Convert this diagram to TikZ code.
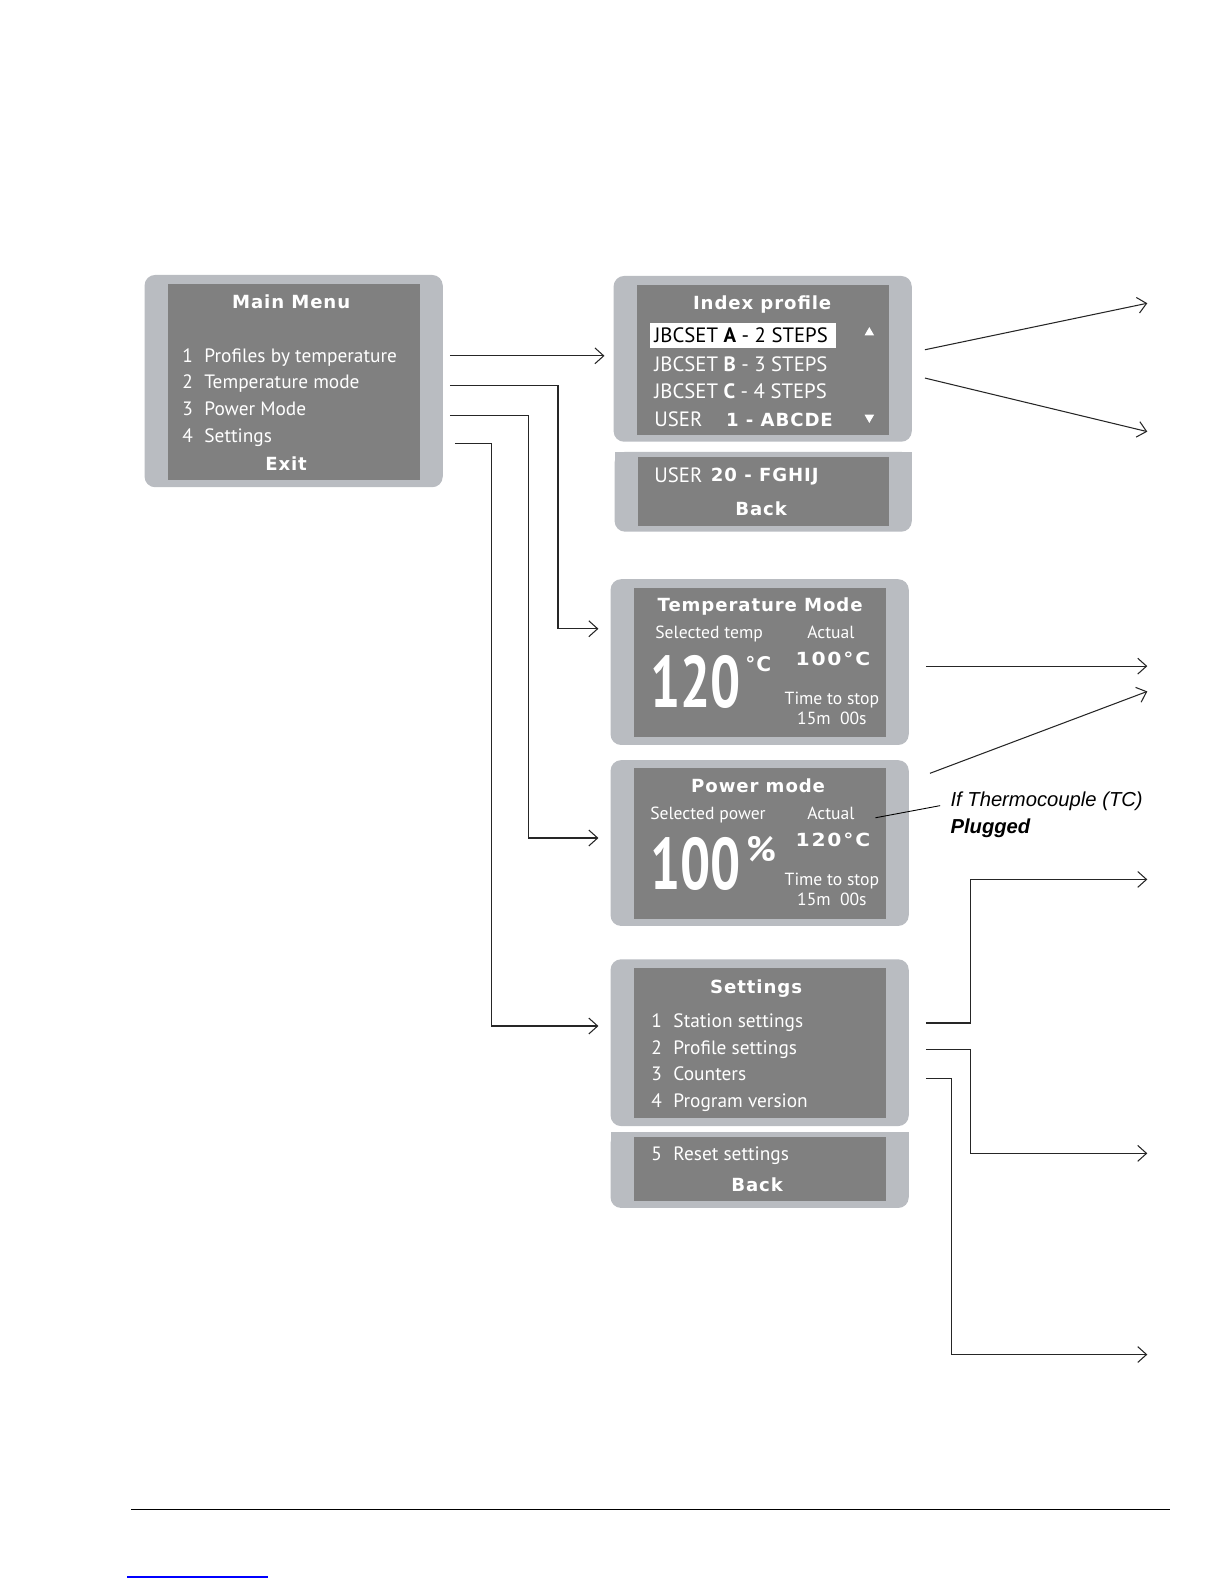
\documentclass[tikz,border=0pt]{standalone}
\usepackage{fontspec}
\setmainfont{Liberation Sans}
\newfontfamily\lcdfont{PT Sans}
\newfontfamily\lcdheavy{DejaVu Sans}[LetterSpace=5]
\newfontfamily\lcdwide{DejaVu Sans}[LetterSpace=10, FakeStretch=1.12]
\usepackage{graphicx}
\usepackage{xcolor}
\usepackage{tikz}
\usetikzlibrary{shapes.geometric, arrows.meta, positioning, calc, fit}
\definecolor{bezelgray}{RGB}{185,188,193}
\definecolor{lcdgray}{RGB}{128,128,128}

\begin{document}
\begin{tikzpicture}[
    x=0.0202cm, y=-0.0202cm,
    screenframe/.style={fill=bezelgray, rounded corners=6pt, inner sep=0pt, outer sep=0pt},
    lcd/.style={fill=lcdgray, inner sep=0pt, outer sep=0pt},
    menutxt/.style={text=white, font=\lcdfont\fontsize{11}{13}\selectfont, anchor=west, inner sep=0pt, text height=7.7pt, text depth=0pt},
    rowtxt/.style={text=white, font=\lcdfont\fontsize{11.8}{13}\selectfont, anchor=west, inner sep=0pt, text height=8.2pt, text depth=0pt},
    smalltxt/.style={text=white, font=\lcdfont\fontsize{10}{12}\selectfont, inner sep=0pt, text height=7pt, text depth=0pt},
    titletxt/.style={text=white, font=\lcdheavy\bfseries\fontsize{10.3}{12}\selectfont, inner sep=0pt, text height=7.5pt, text depth=0pt},
    readout/.style={text=white, font=\lcdwide\bfseries\fontsize{10.3}{12}\selectfont, inner sep=0pt, text height=7.5pt, text depth=0pt},
    bigtxt/.style={text=white, font=\lcdfont\bfseries\fontsize{41.5}{42}\selectfont, inner sep=0pt, text height=29pt, text depth=0pt},
    stoptxt/.style={text=white, font=\lcdfont\fontsize{10}{11.3}\selectfont, align=center, inner sep=0pt},
    scrollmark/.style={regular polygon, regular polygon sides=3, fill=white, inner sep=0pt, minimum size=0.22cm},
    arrow/.style={-{Straight Barb[length=5pt, width=9pt]}, line width=0.6pt, draw=black!85},
    tcnote/.style={font=\fontsize{11.5}{15.5}\selectfont\itshape, align=left, inner sep=0pt, anchor=west}
]
\useasboundingbox (0,0) rectangle (1212,1568);

% Main menu
\node[screenframe, fit={(143,272) (438,482)}] (mainframe) {};
\node[lcd, fit={(166,281) (415,475)}] (mainlcd) {};
\node[titletxt] (maintitle) at (288,299) {Main Menu};
\node[menutxt] (main1) at (180,352) {\makebox[12.6pt][l]{1}Profiles by temperature};
\node[menutxt] (main2) at (180,378) {\makebox[12.6pt][l]{2}Temperature mode};
\node[menutxt] (main3) at (180,404) {\makebox[12.6pt][l]{3}Power Mode};
\node[menutxt] (main4) at (180,431) {\makebox[12.6pt][l]{4}Settings};
\node[titletxt] (mainexit) at (283,459) {Exit};

% Index profile
\node[screenframe, fit={(607,273) (902,437)}] (indexframe) {};
\node[lcd, fit={(630,282) (879,430)}] (indexlcd) {};
\node[screenframe, fit={(608,447) (902,526)}] (userframe) {};
\fill[bezelgray] (userframe.north west) rectangle (userframe.east);
\node[lcd, fit={(631,452) (879,520)}] (userlcd) {};
\node[titletxt] (indextitle) at (754,300) {Index profile};
\node[fill=white, inner sep=0pt, fit={(643,320) (827,344)}] (selbar) {};
\node[rowtxt, text=black] (rowA) at (647,332) {JBCSET \textbf{A} - 2 STEPS};
\node[rowtxt] (rowB) at (647,360) {JBCSET \textbf{B} - 3 STEPS};
\node[rowtxt] (rowC) at (647,387) {JBCSET \textbf{C} - 4 STEPS};
\node[rowtxt] (rowU1) at (647,415) {USER};
\node[titletxt, anchor=west] (rowU1name) at (718,415) {1 - ABCDE};
\node[scrollmark] (upmark) at (860,329) {};
\node[scrollmark, shape border rotate=180] (downmark) at (860,413) {};
\node[rowtxt] (rowU20) at (647,470) {USER};
\node[titletxt, anchor=west] (rowU20name) at (703,470) {20 - FGHIJ};
\node[titletxt] (indexback) at (753,503) {Back};

% Temperature mode
\node[screenframe, fit={(604,573) (899,737)}] (tempframe) {};
\node[lcd, fit={(627,582) (876,729)}] (templcd) {};
\node[titletxt] (temptitle) at (752,598) {Temperature Mode};
\node[smalltxt, anchor=west] (tempsel) at (648,626) {Selected temp};
\node[smalltxt] (tempact) at (822,626) {Actual};
\node[bigtxt] (tempbig) at (688,675) {\scalebox{0.73}[1]{120}};
\node[titletxt, anchor=west, font=\lcdheavy\bfseries\fontsize{11.5}{12}\selectfont, text height=8.4pt] (tempunit) at (737,657) {°C};
\node[readout] (tempreal) at (824,652) {100°C};
\node[stoptxt] (tempstop) at (823,701) {Time to stop\\15m\ \ 00s};

% Power mode
\node[screenframe, fit={(604,752) (899,916)}] (powerframe) {};
\node[lcd, fit={(627,760) (876,909)}] (powerlcd) {};
\node[titletxt] (powertitle) at (750,777) {Power mode};
\node[smalltxt, anchor=west] (powersel) at (643,805) {Selected power};
\node[smalltxt] (poweract) at (822,805) {Actual};
\node[bigtxt] (powerbig) at (688,855) {\scalebox{0.73}[1]{100}};
\node[text=white, font=\lcdfont\bfseries\fontsize{20}{20}\selectfont, inner sep=0pt, text height=14pt, text depth=0pt] (powerunit) at (753,840) {\%};
\node[readout] (powerreal) at (824,831) {120°C};
\node[stoptxt] (powerstop) at (823,880) {Time to stop\\15m\ \ 00s};

% Settings
\node[screenframe, fit={(604,949) (899,1114)}] (setframe) {};
\node[lcd, fit={(627,958) (876,1106)}] (setlcd) {};
\node[screenframe, fit={(604,1120) (899,1195)}] (resetframe) {};
\fill[bezelgray] (resetframe.north west) rectangle (resetframe.east);
\node[lcd, fit={(627,1125) (876,1188)}] (resetlcd) {};
\node[titletxt] (settitle) at (748,976) {Settings};
\node[menutxt] (set1) at (644,1010) {\makebox[12.6pt][l]{1}Station settings};
\node[menutxt] (set2) at (644,1036) {\makebox[12.6pt][l]{2}Profile settings};
\node[menutxt] (set3) at (644,1062) {\makebox[12.6pt][l]{3}Counters};
\node[menutxt] (set4) at (644,1089) {\makebox[12.6pt][l]{4}Program version};
\node[menutxt] (set5) at (644,1141) {\makebox[12.6pt][l]{5}Reset settings};
\node[titletxt] (setback) at (749,1172) {Back};

% Thermocouple note
\node[tcnote] (tcinfo) at (940,806) {If Thermocouple (TC)\\\textbf{Plugged}};
\coordinate (tcpin) at (866,809);
\draw[line width=0.5pt] (tcpin) -- ($(tcinfo.west)+(-10,-9)$);

% Free ends on the right
\coordinate (ipnext1) at (1135,300);
\coordinate (ipnext2) at (1135,427);
\coordinate (tmnext) at (1135,659);
\coordinate (pmnext) at (1135,684);
\coordinate (stnext1) at (1135,870);
\coordinate (stnext2) at (1135,1141);
\coordinate (stnext3) at (1135,1340);

% Arrows
\draw[arrow] ($(mainframe.east)+(7,-25)$) -- ($(indexframe.west)+(-9,-3)$);
\draw[arrow] ($(mainframe.east)+(7,4)$) -| ($(tempframe.west)+(-52,-33)$) -- ($(tempframe.west)+(-12,-33)$);
\draw[arrow] ($(mainframe.east)+(7,34)$) -| ($(powerframe.west)+(-81,-5)$) -- ($(powerframe.west)+(-12,-5)$);
\draw[arrow] ($(mainframe.east)+(12,62)$) -| ($(setframe.west)+(-118,-16.5)$) -- ($(setframe.west)+(-12,-16.5)$);
\draw[arrow] ($(indexframe.east)+(13,-9)$) -- (ipnext1);
\draw[arrow] ($(indexframe.east)+(13,19)$) -- (ipnext2);
\draw[arrow] ($(tempframe.east)+(17,4)$) -- (tmnext);
\draw[arrow] ($(powerframe.east)+(21,-69)$) -- (pmnext);
\draw[arrow] ($(setframe.east)+(17,-19.5)$) -| ($(stnext1)+(-175,0)$) -- (stnext1);
\draw[arrow] ($(setframe.east)+(17,6.5)$) -| ($(stnext2)+(-175,0)$) -- (stnext2);
\draw[arrow] ($(setframe.east)+(17,35.5)$) -| ($(stnext3)+(-194,0)$) -- (stnext3);

% Page rule
\draw[line width=0.8pt] (130,1493) -- (1157,1493);
\draw[blue, line width=0.8pt] (126,1560) -- (265,1560);

\end{tikzpicture}
\end{document}
